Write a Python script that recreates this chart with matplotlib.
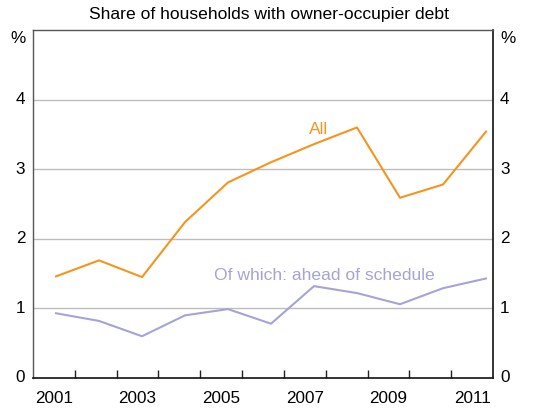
import matplotlib
matplotlib.use("Agg")
import matplotlib.pyplot as plt
import numpy as np

plt.rcParams['font.family'] = ['Liberation Sans', 'DejaVu Sans']

years = [2001, 2002, 2003, 2004, 2005, 2006, 2007, 2008, 2009, 2010, 2011]
all_share = [1.46, 1.69, 1.45, 2.24, 2.81, 3.10, 3.36, 3.60, 2.59, 2.78, 3.54]
ahead_share = [0.93, 0.82, 0.60, 0.90, 0.99, 0.78, 1.32, 1.22, 1.06, 1.29, 1.43]
tick_labels = ['2001', '2003', '2005', '2007', '2009', '2011']
y_ticks = [0, 1, 2, 3, 4]

orange = '#f7941d'
purple = '#a4a4d6'

fig = plt.figure(figsize=(5.38, 4.08), dpi=100)
W, H = 538, 408
ax = fig.add_axes([33 / W, (H - 378) / H, (493 - 33) / W, (378 - 30) / H])

x0, x1 = 2000.465, 2011.163
ax.set_xlim(x0, x1)
ax.set_ylim(0, 5)

for y in [1, 2, 3, 4]:
    ax.axhline(y, color='#bdbdbd', lw=1.0, zorder=1)

ax.plot(years, all_share, color=orange, lw=1.5, zorder=3)
ax.plot(years, ahead_share, color=purple, lw=1.5, zorder=3)

ax.text(2007.11, 3.57, 'All', color=orange, fontsize=12.6, ha='center', va='center')
ax.text(2007.24, 1.47, 'Of which: ahead of schedule', color=purple, fontsize=12.6,
        ha='center', va='center')

# x ticks: 11 equal slots, ticks at slot boundaries, labels centred in odd slots
edges = np.linspace(x0, x1, 12)
ax.set_xticks(edges[1:-1])
ax.set_xticklabels([])
ax.tick_params(axis='x', direction='in', length=6, width=1, color='#222222')
centers = (edges[:-1] + edges[1:]) / 2
for c, lab in zip(centers[::2], tick_labels):
    ax.text(c, -0.30, lab, ha='center', va='center', fontsize=12.3,
            transform=ax.transData, clip_on=False)

ax.set_yticks([])
for y in y_ticks:
    ax.text(-0.017, y, str(y), transform=ax.get_yaxis_transform(), ha='right',
            va='center', fontsize=12.3)
    ax.text(1.015, y, str(y), transform=ax.get_yaxis_transform(), ha='left',
            va='center', fontsize=12.3)
ax.text(-0.017, 4.88, '%', transform=ax.get_yaxis_transform(), ha='right',
        va='center', fontsize=12.3)
ax.text(1.015, 4.88, '%', transform=ax.get_yaxis_transform(), ha='left',
        va='center', fontsize=12.3)

for s in ['left', 'top']:
    ax.spines[s].set_color('#555555')
    ax.spines[s].set_linewidth(1.0)
for s in ['right', 'bottom']:
    ax.spines[s].set_color('#111111')
    ax.spines[s].set_linewidth(1.2)

fig.text(0.5, 1 - 14 / H, 'Share of households with owner-occupier debt',
         ha='center', va='center', fontsize=12.6)

fig.savefig('out.png', dpi=100)
